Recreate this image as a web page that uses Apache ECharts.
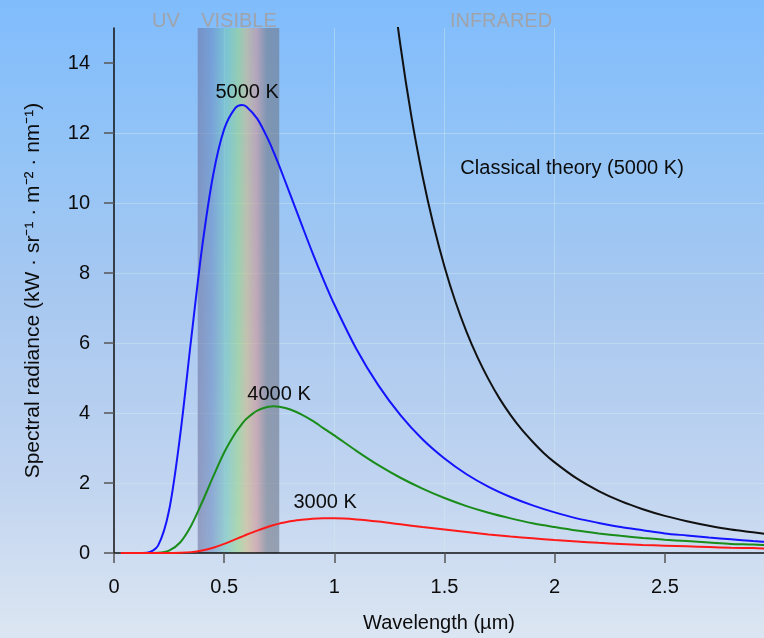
<!DOCTYPE html>
<html>
<head>
<meta charset="utf-8">
<script src="https://cdn.jsdelivr.net/npm/echarts@6/dist/echarts.min.js"></script>
<style>
  html, body { margin: 0; padding: 0; }
  #chart {
    width: 764px; height: 638px;
    background: linear-gradient(to bottom, #80bcfc 0%, #94c4f6 25%, #a8c8f0 47%, #c0d4f0 75%, #dce6f2 100%);
  }
</style>
</head>
<body>
<div id="chart"></div>
<script>
// Black-body spectral radiance vs wavelength
var wavelength = [0.03, 0.1, 0.15, 0.2, 0.25, 0.3, 0.35, 0.4, 0.45, 0.5, 0.55, 0.58, 0.6, 0.65, 0.7, 0.725, 0.75,
  0.8, 0.85, 0.9, 0.95, 1.0, 1.1, 1.2, 1.3, 1.4, 1.5, 1.6, 1.7, 1.8, 1.9, 2.0,
  2.1, 2.2, 2.3, 2.4, 2.5, 2.6, 2.7, 2.8, 2.9, 3.0];
var radiance5000 = [0, 0, 0.007, 0.21, 1.22, 3.35, 6.10, 8.74, 10.80, 12.11, 12.71, 12.80, 12.76, 12.41, 11.81, 11.45, 11.06,
  10.24, 9.41, 8.59, 7.82, 7.10, 5.83, 4.79, 3.94, 3.25, 2.70, 2.25, 1.89, 1.60, 1.36, 1.16,
  0.99, 0.86, 0.74, 0.65, 0.56, 0.50, 0.44, 0.39, 0.34, 0.30];
var radiance4000 = [0, 0, 0, 0.006, 0.069, 0.30, 0.78, 1.45, 2.18, 2.87, 3.42, 3.68, 3.83, 4.07, 4.18, 4.19, 4.18,
  4.10, 3.96, 3.78, 3.57, 3.36, 2.92, 2.51, 2.15, 1.84, 1.57, 1.34, 1.15, 0.99, 0.85, 0.74,
  0.64, 0.56, 0.49, 0.43, 0.38, 0.34, 0.30, 0.26, 0.24, 0.21];
var radiance3000 = [0, 0, 0, 0, 0.001, 0.006, 0.025, 0.072, 0.15, 0.26, 0.39, 0.465, 0.52, 0.64, 0.75, 0.80, 0.84,
  0.91, 0.95, 0.98, 0.99, 0.99, 0.96, 0.90, 0.82, 0.74, 0.67, 0.60, 0.53, 0.47, 0.42, 0.37,
  0.33, 0.29, 0.26, 0.23, 0.21, 0.19, 0.17, 0.15, 0.14, 0.12];
var wavelengthClassical = [1.2, 1.25, 1.3, 1.35, 1.4, 1.45, 1.5, 1.55, 1.6, 1.65, 1.7, 1.75, 1.8, 1.85, 1.9, 1.95, 2.0,
  2.1, 2.2, 2.3, 2.4, 2.5, 2.6, 2.7, 2.8, 2.9, 3.0];
var radianceClassical = [19.97, 16.96, 14.50, 12.46, 10.78, 9.37, 8.18, 7.17, 6.32, 5.59, 4.96, 4.41, 3.94, 3.53, 3.18, 2.86, 2.59,
  2.13, 1.77, 1.48, 1.25, 1.06, 0.91, 0.78, 0.67, 0.59, 0.51];
var visibleBand = [0.38, 0.75];
var xTicks = [0, 0.5, 1, 1.5, 2, 2.5];
var yTicks = [0, 2, 4, 6, 8, 10, 12, 14];

(function() {
  var font = '"Liberation Sans", Arial, sans-serif';
  var ink = '#0c0c0c';

  function pairs(xs, ys) {
    return xs.map(function(x, i) { return [x, ys[i]]; });
  }

  function curve(name, color, xs, ys, labelText, labelAt) {
    return {
      name: name,
      type: 'line',
      data: pairs(xs, ys),
      smooth: 0.3,
      showSymbol: false,
      lineStyle: { color: color, width: 2 },
      z: 3,
      markPoint: {
        symbol: 'circle',
        symbolSize: 0,
        silent: true,
        label: { show: true, position: 'inside', color: ink, fontSize: 20, fontFamily: font, formatter: '{b}' },
        data: [{ name: labelText, coord: labelAt }]
      }
    };
  }

  var chart = echarts.init(document.getElementById('chart'), null, { renderer: 'canvas' });
  chart.setOption({
    animation: false,
    backgroundColor: 'transparent',
    grid: { left: 114, right: 0, top: 28, bottom: 82 },
    xAxis: {
      type: 'value',
      min: 0,
      max: 2.95,
      interval: 0.5,
      z: 1,
      name: 'Wavelength (µm)',
      nameLocation: 'middle',
      nameGap: 60,
      nameTextStyle: { color: ink, fontSize: 20, fontFamily: font },
      axisLine: { onZero: false, lineStyle: { color: '#111', width: 1.5 } },
      axisTick: { show: true, length: 10, customValues: xTicks, lineStyle: { color: '#555', width: 1.5 } },
      axisLabel: { color: ink, fontSize: 20, fontFamily: font, margin: 24, customValues: xTicks },
      splitLine: { show: true, showMinLine: false, showMaxLine: false, lineStyle: { color: 'rgba(210,238,240,0.4)', width: 1 } }
    },
    yAxis: {
      type: 'value',
      min: 0,
      max: 15,
      interval: 2,
      z: 1,
      name: 'Spectral radiance (kW · sr⁻¹ · m⁻² · nm⁻¹)',
      nameLocation: 'middle',
      nameGap: 70,
      nameTextStyle: { color: ink, fontSize: 21, fontFamily: font },
      axisLine: { show: true, lineStyle: { color: '#111', width: 1.5 } },
      axisTick: { show: true, length: 10, customValues: yTicks, lineStyle: { color: '#555', width: 1.5 } },
      axisLabel: { color: ink, fontSize: 20, fontFamily: font, margin: 24, customValues: yTicks },
      splitLine: { show: true, showMinLine: false, showMaxLine: false, lineStyle: { color: 'rgba(210,238,240,0.4)', width: 1 } }
    },
    graphic: [
      { type: 'text', x: 166, y: 21, silent: true, style: { text: 'UV', fill: '#a0a3aa', font: '20px ' + font, align: 'center', verticalAlign: 'middle' } },
      { type: 'text', x: 239, y: 21, silent: true, style: { text: 'VISIBLE', fill: '#a0a3aa', font: '20px ' + font, align: 'center', verticalAlign: 'middle' } },
      { type: 'text', x: 501, y: 21, silent: true, style: { text: 'INFRARED', fill: '#a0a3aa', font: '20px ' + font, align: 'center', verticalAlign: 'middle' } }
    ],
    series: [
      {
        name: 'visible',
        type: 'line',
        data: [],
        z: 0,
        markArea: {
          silent: true,
          itemStyle: {
            color: {
              type: 'linear', x: 0, y: 0, x2: 1, y2: 0,
              colorStops: [
                { offset: 0, color: 'rgba(110,115,160,0.6)' },
                { offset: 0.17, color: 'rgba(105,140,195,0.6)' },
                { offset: 0.35, color: 'rgba(115,200,187,0.6)' },
                { offset: 0.5, color: 'rgba(155,213,133,0.6)' },
                { offset: 0.6, color: 'rgba(208,187,133,0.6)' },
                { offset: 0.72, color: 'rgba(208,147,147,0.6)' },
                { offset: 0.85, color: 'rgba(115,120,133,0.6)' },
                { offset: 1, color: 'rgba(110,118,138,0.6)' }
              ]
            }
          },
          data: [[{ xAxis: visibleBand[0], yAxis: 0 }, { xAxis: visibleBand[1], yAxis: 15 }]]
        }
      },
      curve('5000 K', '#1414ff', wavelength, radiance5000, '5000 K', [0.604, 13.15]),
      curve('4000 K', '#1a8c1a', wavelength, radiance4000, '4000 K', [0.749, 4.54]),
      curve('3000 K', '#ff1a1a', wavelength, radiance3000, '3000 K', [0.958, 1.44]),
      curve('Classical', '#111111', wavelengthClassical, radianceClassical, 'Classical theory (5000 K)', [2.079, 10.99])
    ]
  });
  window.addEventListener('resize', function() { chart.resize(); });
})();
</script>
</body>
</html>
